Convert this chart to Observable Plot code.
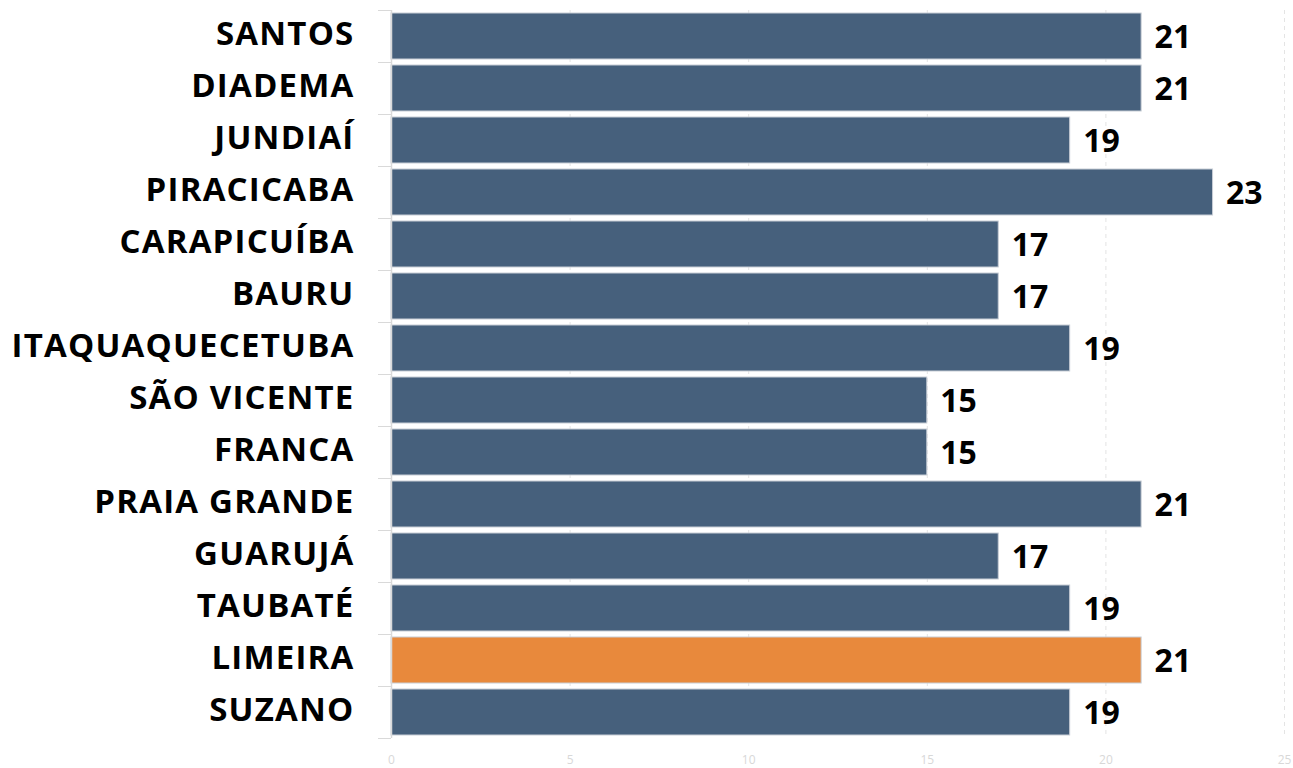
<!DOCTYPE html>
<html>
<head>
<meta charset="utf-8">
<script src="https://cdn.jsdelivr.net/npm/d3@7"></script>
<script src="https://cdn.jsdelivr.net/npm/@observablehq/plot@0.6"></script>
<style>
  html, body { margin: 0; padding: 0; background: #fff; }
  .ylab text { letter-spacing: 1.2px; }
</style>
</head>
<body>
<div id="chart"></div>
<script>
const cities = ["SANTOS","DIADEMA","JUNDIAÍ","PIRACICABA","CARAPICUÍBA","BAURU","ITAQUAQUECETUBA","SÃO VICENTE","FRANCA","PRAIA GRANDE","GUARUJÁ","TAUBATÉ","LIMEIRA","SUZANO"];
const values = [21,21,19,23,17,17,19,15,15,21,17,19,21,19];
const highlight = "LIMEIRA";
const xTicks = [0,5,10,15,20,25];

const data = cities.map((c, i) => ({city: c, value: values[i]}));
const labelFont = "'Open Sans', Lato, sans-serif";

const chart = Plot.plot({
  width: 1293,
  height: 768,
  marginLeft: 391,
  marginRight: 9,
  marginTop: 10,
  marginBottom: 30,
  style: {background: "#fff", overflow: "visible"},
  x: {domain: [0, 25]},
  y: {domain: cities, padding: 0},
  marks: [
    Plot.gridX(xTicks.slice(1), {stroke: "#e4e4e4", strokeOpacity: 1, strokeDasharray: "4,4"}),
    Plot.axisX(xTicks, {tickSize: 0, tickPadding: 17, fill: "#d8d8d8", fontSize: 12, fontFamily: labelFont, label: null}),
    Plot.barX(data, {
      y: "city", x: "value",
      fill: d => d.city === highlight ? "#e8893c" : "#46607c",
      stroke: "#c8ced6", strokeWidth: 1,
      insetTop: 3, insetBottom: 3
    }),
    Plot.ruleX([0], {stroke: "#d9d9d9", strokeWidth: 1.5}),
    Plot.axisY({className: "ylab", tickSize: 0, tickPadding: 37, dy: -2, fontSize: 33, fontWeight: "bold", fontFamily: labelFont, fill: "#000", label: null}),
    Plot.axisY(cities, {tickSize: 13, stroke: "#d9d9d9", dy: -26, tickFormat: () => "", label: null}),
    Plot.axisY(cities.slice(-1), {tickSize: 13, stroke: "#d9d9d9", dy: 26, tickFormat: () => "", label: null}),
    Plot.text(data, {
      y: "city", x: "value", text: d => String(d.value),
      dx: 13, dy: 1, textAnchor: "start",
      fontSize: 32, fontWeight: "bold", fontFamily: labelFont, fill: "#000"
    })
  ]
});
document.getElementById("chart").appendChild(chart);
</script>
</body>
</html>
